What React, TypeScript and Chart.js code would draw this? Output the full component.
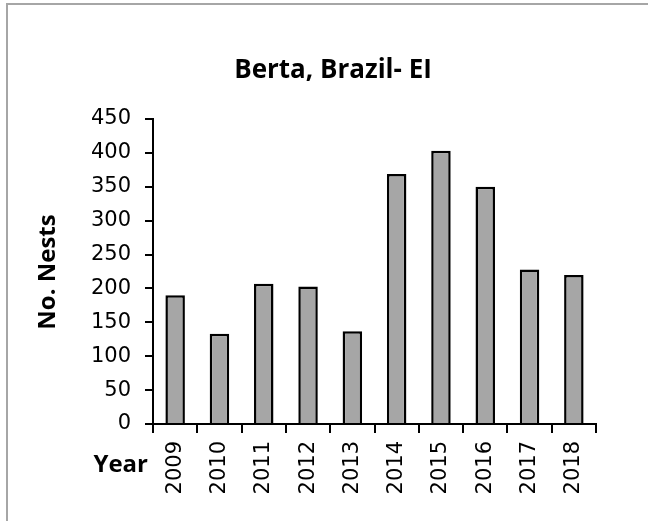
import React, { useEffect, useRef } from "react";
import { Chart, registerables } from "chart.js";

Chart.register(...registerables);

const years = ["2009", "2010", "2011", "2012", "2013", "2014", "2015", "2016", "2017", "2018"];
const nests = [190, 133, 207, 203, 137, 369, 403, 350, 228, 220];
const yMin = 0;
const yMax = 450;
const yStep = 50;
const chartTitle = "Berta, Brazil- EI";
const xTitle = "Year";
const yTitle = "No. Nests";

const tickFont = { family: "'DejaVu Sans', sans-serif", size: 21 };

const decorPlugin = {
  id: "decor",
  afterDraw(chart: any) {
    const ctx = chart.ctx;
    ctx.save();
    ctx.strokeStyle = "#a6a6a6";
    ctx.lineWidth = 2;
    ctx.beginPath();
    ctx.moveTo(7, chart.height);
    ctx.lineTo(7, 4);
    ctx.lineTo(chart.width, 4);
    ctx.stroke();
    ctx.fillStyle = "#000";
    ctx.textBaseline = "alphabetic";
    ctx.font = "bold 26px 'Open Sans', Lato, sans-serif";
    ctx.textAlign = "center";
    ctx.fillText(chartTitle, 333, 78);
    ctx.font = "bold 24px 'Open Sans', Lato, sans-serif";
    ctx.textAlign = "right";
    ctx.fillText(xTitle, 148, 472);
    ctx.translate(55, 272);
    ctx.rotate(-Math.PI / 2);
    ctx.textAlign = "center";
    ctx.fillText(yTitle, 0, 0);
    ctx.restore();
  },
};

export default function App() {
  const canvasRef = useRef<HTMLCanvasElement | null>(null);

  useEffect(() => {
    const canvas = canvasRef.current;
    if (!canvas) return;
    const chart = new Chart(canvas, {
      type: "bar",
      data: {
        labels: years,
        datasets: [
          {
            data: nests,
            backgroundColor: "#a6a6a6",
            borderColor: "#000000",
            borderWidth: 2.5,
            barPercentage: 0.44,
            categoryPercentage: 1,
          },
        ],
      },
      options: {
        animation: false,
        responsive: false,
        devicePixelRatio: 1,
        layout: { padding: { top: 119, right: 52, bottom: 0, left: 0 } },
        plugins: {
          legend: { display: false },
          tooltip: { enabled: false },
          title: { display: false },
        },
        scales: {
          x: {
            grid: {
              display: true,
              drawOnChartArea: false,
              drawTicks: true,
              tickLength: 9,
              color: "#000",
              lineWidth: 2,
              offset: true,
            },
            border: { display: true, color: "#000", width: 2 },
            ticks: {
              font: tickFont,
              color: "#000",
              maxRotation: 90,
              minRotation: 90,
              padding: 8,
              autoSkip: false,
            },
            afterFit: (s: any) => {
              s.height = 97;
            },
          },
          y: {
            min: yMin,
            max: yMax,
            ticks: { stepSize: yStep, font: tickFont, color: "#000", padding: 14 },
            grid: {
              display: true,
              drawOnChartArea: false,
              drawTicks: true,
              tickLength: 8,
              color: "#000",
              lineWidth: 2,
            },
            border: { display: true, color: "#000", width: 2 },
            afterFit: (s: any) => {
              s.width = 153;
            },
          },
        },
      },
      plugins: [decorPlugin],
    });
    return () => chart.destroy();
  }, []);

  return (
    <div style={{ position: "fixed", left: 0, top: 0, width: 648, height: 521, background: "#fff", overflow: "hidden" }}>
      <canvas ref={canvasRef} width={648} height={521} style={{ width: 648, height: 521, display: "block" }} />
    </div>
  );
}
